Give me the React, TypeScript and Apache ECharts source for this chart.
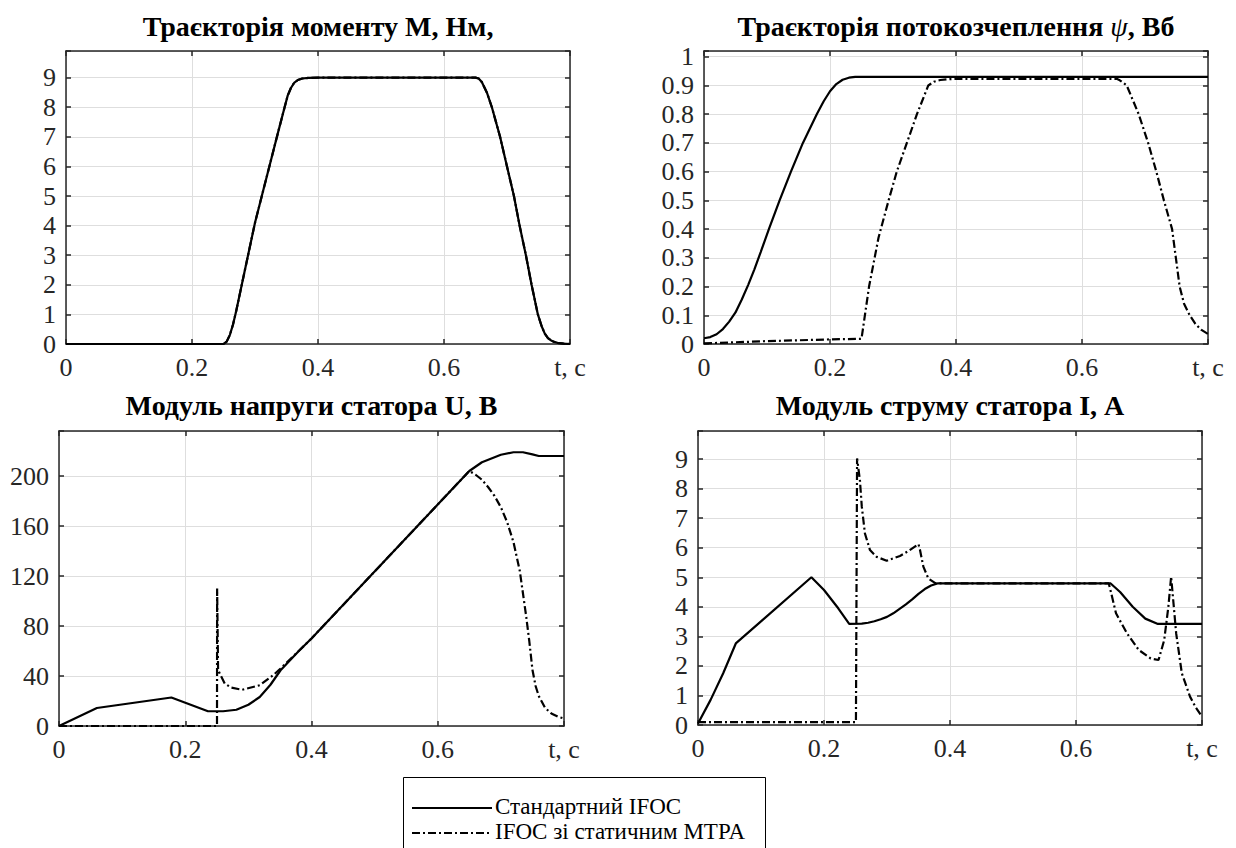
import React, { useEffect, useRef } from 'react';
import * as echarts from 'echarts';

const FONT = 'Liberation Serif, Times New Roman, serif';

const STD = 'Стандартний IFOC';
const MTPA = 'IFOC зі статичним MTPA';

const titles = [
  'Траєкторія моменту М, Нм,',
  'Траєкторія потокозчеплення ψ, Вб',
  'Модуль напруги статора U, В',
  'Модуль струму статора I, А',
];

const xTicks = [0, 0.2, 0.4, 0.6, 0.8];
const xTickLabels = ['0', '0.2', '0.4', '0.6', 't, c'];

// Torque, N·m
const torqueT = [0, 0.25, 0.255, 0.26, 0.265, 0.27, 0.28, 0.29, 0.3, 0.312, 0.324, 0.336, 0.347, 0.352, 0.357, 0.362, 0.368, 0.375, 0.385, 0.4, 0.65, 0.655, 0.66, 0.668, 0.676, 0.689, 0.7, 0.711, 0.72, 0.73, 0.739, 0.749, 0.755, 0.76, 0.765, 0.77, 0.775, 0.78, 0.79, 0.8];
const torqueStd = [0, 0, 0.08, 0.3, 0.65, 1.1, 2.1, 3.1, 4.1, 5.1, 6.1, 7.1, 8.0, 8.4, 8.65, 8.82, 8.92, 8.97, 8.99, 9, 9, 8.97, 8.85, 8.5, 8, 7, 6, 5, 4, 3, 2, 1, 0.6, 0.35, 0.2, 0.12, 0.07, 0.04, 0.01, 0];
const torqueMtpa = [0, 0, 0.08, 0.3, 0.65, 1.1, 2.1, 3.1, 4.1, 5.1, 6.1, 7.1, 8.0, 8.4, 8.65, 8.82, 8.92, 8.97, 8.99, 9, 9, 8.97, 8.85, 8.5, 8, 7, 6, 5, 4, 3, 2, 1, 0.6, 0.35, 0.2, 0.12, 0.07, 0.04, 0.01, 0];

// Flux linkage, Wb
const fluxStdT = [0, 0.01, 0.02, 0.03, 0.04, 0.05, 0.06, 0.07, 0.08, 0.09, 0.103, 0.12, 0.138, 0.157, 0.179, 0.19, 0.2, 0.21, 0.22, 0.23, 0.24, 0.8];
const fluxStd = [0.02, 0.024, 0.034, 0.052, 0.078, 0.11, 0.155, 0.205, 0.26, 0.32, 0.4, 0.5, 0.6, 0.7, 0.8, 0.845, 0.88, 0.905, 0.92, 0.927, 0.93, 0.93];
const fluxMtpaT = [0, 0.05, 0.1, 0.15, 0.2, 0.25, 0.2505, 0.262, 0.277, 0.293, 0.306, 0.322, 0.338, 0.356, 0.365, 0.375, 0.39, 0.4, 0.655, 0.66, 0.671, 0.69, 0.705, 0.718, 0.73, 0.743, 0.749, 0.755, 0.762, 0.771, 0.78, 0.789, 0.8];
const fluxMtpa = [0.002, 0.006, 0.01, 0.013, 0.016, 0.018, 0.02, 0.2, 0.37, 0.5, 0.6, 0.7, 0.8, 0.9, 0.913, 0.919, 0.922, 0.923, 0.923, 0.918, 0.9, 0.8, 0.7, 0.6, 0.5, 0.4, 0.3, 0.2, 0.14, 0.1, 0.07, 0.05, 0.035];

// Stator voltage, V
const voltStdT = [0, 0.06, 0.178, 0.236, 0.26, 0.281, 0.3, 0.318, 0.335, 0.351, 0.381, 0.4, 0.65, 0.67, 0.7, 0.72, 0.735, 0.75, 0.76, 0.8];
const voltStd = [0, 14.4, 22.8, 11.8, 11.8, 13, 17, 23.2, 33, 44.6, 60.6, 70, 204, 211, 217, 219, 219, 217.3, 216, 216];
const voltMtpaT = [0, 0.2503, 0.2505, 0.252, 0.2546, 0.2625, 0.273, 0.29, 0.318, 0.339, 0.351, 0.381, 0.4, 0.65, 0.66, 0.67, 0.68, 0.69, 0.7, 0.71, 0.72, 0.73, 0.74, 0.745, 0.75, 0.755, 0.76, 0.77, 0.78, 0.79, 0.8];
const voltMtpa = [0, 0, 110, 45, 42, 34, 30.7, 29, 32.6, 40.5, 46, 60.6, 70, 204, 201, 197, 191, 184, 175, 163, 147, 124, 88, 68, 45, 32, 24, 14.5, 10, 7.5, 6];

// Stator current, A
const currStdT = [0, 0.02, 0.04, 0.06, 0.18, 0.2, 0.2226, 0.24, 0.26, 0.27, 0.28, 0.29, 0.3, 0.31, 0.32, 0.33, 0.34, 0.35, 0.36, 0.37, 0.38, 0.655, 0.67, 0.69, 0.71, 0.73, 0.8];
const currStd = [0.05, 0.85, 1.75, 2.76, 5.0, 4.57, 3.95, 3.42, 3.43, 3.46, 3.51, 3.58, 3.66, 3.78, 3.93, 4.08, 4.25, 4.44, 4.6, 4.72, 4.79, 4.79, 4.5, 4.0, 3.6, 3.42, 3.42];
const currMtpaT = [0, 0.2507, 0.2525, 0.257, 0.26, 0.265, 0.273, 0.2836, 0.2995, 0.3206, 0.335, 0.35, 0.3524, 0.3577, 0.3656, 0.376, 0.39, 0.652, 0.656, 0.6635, 0.681, 0.6996, 0.7186, 0.731, 0.74, 0.7466, 0.751, 0.759, 0.768, 0.781, 0.79, 0.8];
const currMtpa = [0.1, 0.1, 9.02, 8.29, 7.39, 6.48, 5.92, 5.69, 5.56, 5.72, 5.9, 6.12, 5.92, 5.36, 4.96, 4.81, 4.79, 4.79, 4.45, 3.78, 3.1, 2.54, 2.25, 2.2, 2.87, 4.0, 5.02, 3.1, 1.75, 0.96, 0.6, 0.28];

const yMax = [9.9, 1.02, 236, 9.95];
const yInterval = [1, 0.1, 40, 1];

const GRIDS = [
  { left: 66, top: 51, width: 504, height: 293 },
  { left: 704, top: 51, width: 504, height: 293 },
  { left: 59, top: 431, width: 505, height: 295 },
  { left: 698, top: 431, width: 504, height: 294 },
];

const zip = (t: number[], v: number[]) => t.map((x, i) => [x, v[i]]);

const panels = [
  { std: zip(torqueT, torqueStd), mtpa: zip(torqueT, torqueMtpa) },
  { std: zip(fluxStdT, fluxStd), mtpa: zip(fluxMtpaT, fluxMtpa) },
  { std: zip(voltStdT, voltStd), mtpa: zip(voltMtpaT, voltMtpa) },
  { std: zip(currStdT, currStd), mtpa: zip(currMtpaT, currMtpa) },
];

const AX = '#262626';
const GRIDC = '#dedede';
const TICK_FS = 26;
const DASHDOT = [8, 3, 2, 3];
const LW = 2.2;

function buildOption() {
  const xAxis: any[] = [];
  const yAxis: any[] = [];
  const series: any[] = [];
  GRIDS.forEach((_, i) => {
    const axLine = { show: true, onZero: false, lineStyle: { color: AX, width: 1.5 } };
    const tick = { show: true, inside: true, length: 5, lineStyle: { color: AX, width: 1.5 } };
    xAxis.push({
      type: 'value', gridIndex: i, position: 'bottom', min: 0, max: 0.8, interval: 0.2,
      axisLine: axLine, axisTick: tick,
      axisLabel: {
        fontFamily: FONT, fontSize: TICK_FS, color: AX, margin: 10,
        formatter: (v: number) => {
          const k = xTicks.findIndex((t) => Math.abs(t - v) < 1e-6);
          return k >= 0 ? xTickLabels[k] : '';
        },
      },
      splitLine: { show: true, lineStyle: { color: GRIDC, width: 1 } },
    });
    xAxis.push({
      type: 'value', gridIndex: i, position: 'top', min: 0, max: 0.8, interval: 0.2,
      axisLine: axLine, axisTick: tick, axisLabel: { show: false }, splitLine: { show: false },
    });
    const iv = yInterval[i];
    yAxis.push({
      type: 'value', gridIndex: i, position: 'left', min: 0, max: yMax[i], interval: iv,
      axisLine: axLine, axisTick: tick,
      axisLabel: {
        fontFamily: FONT, fontSize: TICK_FS, color: AX, margin: 10,
        formatter: (v: number) => {
          const r = v / iv;
          if (Math.abs(r - Math.round(r)) > 1e-6) return '';
          return String(Math.round(v * 10) / 10);
        },
      },
      splitLine: { show: true, lineStyle: { color: GRIDC, width: 1 } },
    });
    yAxis.push({
      type: 'value', gridIndex: i, position: 'right', min: 0, max: yMax[i], interval: iv,
      axisLine: axLine, axisTick: tick, axisLabel: { show: false }, splitLine: { show: false },
    });
    series.push({
      name: MTPA, type: 'line', xAxisIndex: 2 * i, yAxisIndex: 2 * i,
      symbol: 'none', showSymbol: false, smooth: false,
      lineStyle: { color: '#000', width: LW, type: DASHDOT },
      itemStyle: { color: '#000' },
      data: panels[i].mtpa, z: 2,
    });
    series.push({
      name: STD, type: 'line', xAxisIndex: 2 * i, yAxisIndex: 2 * i,
      symbol: 'none', showSymbol: false, smooth: false,
      lineStyle: { color: '#000', width: LW, type: 'solid' },
      itemStyle: { color: '#000' },
      data: panels[i].std, z: 3,
    });
  });

  const titleCenters = [
    [318, 26],
    [956, 26],
    [311.5, 405],
    [950, 405],
  ];
  const rich = {
    b: { fontFamily: FONT, fontWeight: 'bold', fontSize: 28, fill: '#000' },
    i: { fontFamily: FONT, fontStyle: 'italic', fontSize: 28, fill: '#000' },
  };
  const graphic: any[] = titles.map((t, k) => {
    const parts = t.split('ψ');
    const text = parts.length > 1 ? `{b|${parts[0]}}{i|ψ}{b|${parts[1]}}` : `{b|${t}}`;
    return {
      type: 'text',
      x: titleCenters[k][0],
      y: titleCenters[k][1],
      style: { text, rich, align: 'center', verticalAlign: 'middle', textAlign: 'center', textVerticalAlign: 'middle' },
    };
  });

  // legend box (drawn as graphics)
  const legendItems = [
    { name: STD, dash: null as number[] | null, y: 808 },
    { name: MTPA, dash: DASHDOT, y: 833 },
  ];
  graphic.push({
    type: 'rect',
    shape: { x: 403.5, y: 777.5, width: 362, height: 90 },
    style: { fill: '#fff', stroke: '#000', lineWidth: 1 },
    z: 10,
  });
  legendItems.forEach((it) => {
    graphic.push({
      type: 'line',
      shape: { x1: 412, y1: it.y, x2: 492, y2: it.y },
      style: { stroke: '#000', lineWidth: LW, lineDash: it.dash || undefined },
      z: 11,
    });
    graphic.push({
      type: 'text',
      x: 495,
      y: it.y - 1.5,
      style: {
        text: it.name, fontFamily: FONT, fontSize: 23, lineHeight: 21, fill: '#000',
        align: 'left', verticalAlign: 'middle', textAlign: 'left', textVerticalAlign: 'middle',
      },
      z: 11,
    });
  });

  return {
    animation: false,
    backgroundColor: '#fff',
    grid: GRIDS.map((g) => ({ ...g, containLabel: false })),
    xAxis,
    yAxis,
    series,
    graphic,
  };
}

export default function App() {
  const ref = useRef<HTMLDivElement>(null);
  useEffect(() => {
    if (!ref.current) return;
    const chart = echarts.init(ref.current, undefined, { renderer: 'svg' });
    chart.setOption(buildOption() as any);
    return () => chart.dispose();
  }, []);
  return (
    <div
      ref={ref}
      style={{ position: 'fixed', left: 0, top: 0, width: 1236, height: 848, background: '#fff' }}
    />
  );
}
